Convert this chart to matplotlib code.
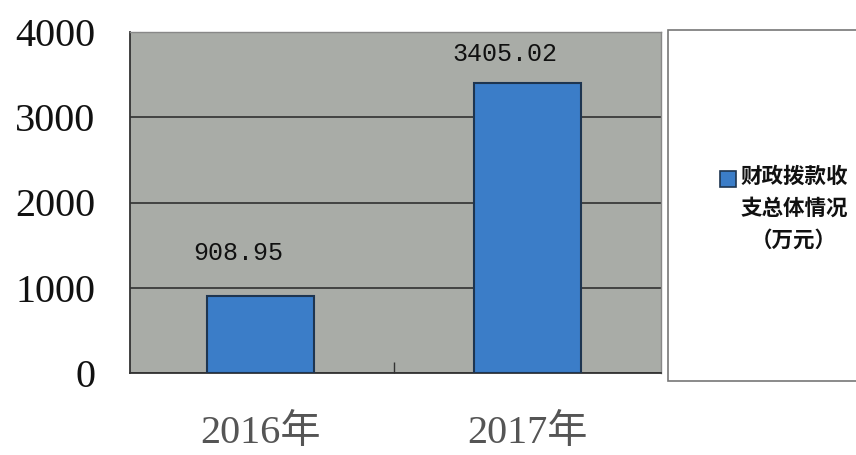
import matplotlib
matplotlib.use("Agg")
import matplotlib.pyplot as plt
from matplotlib.patches import Rectangle

categories = ["2016年", "2017年"]
values = [908.95, 3405.02]
yticks = [0, 1000, 2000, 3000, 4000]
legend_label = "财政拨款收\n支总体情况\n（万元）"

fig = plt.figure(figsize=(8.56, 4.55), dpi=100)
fig.patch.set_facecolor("white")
ax = fig.add_axes([130/856, 1-373/455, 531/856, 341/455])
ax.set_facecolor("#a9aca7")

x = list(range(len(categories)))
ax.set_axisbelow(True)
ax.yaxis.grid(True, color="#3a3a3a", linewidth=1.3)
bars = ax.bar(x, values, width=0.40, color="#3b7dc8", edgecolor="#1e3550", linewidth=1.5, zorder=3)

ax.set_xlim(-0.49, 1.5)
ax.set_ylim(0, 4000)
ax.set_yticks(yticks)
ax.set_yticklabels([str(t) for t in yticks], fontsize=29, family="Liberation Serif", color="#111111")
ax.tick_params(axis="y", length=0, pad=25)
ax.set_xticks(x)
ax.set_xticklabels(categories, fontsize=29, family=["Liberation Serif", "Noto Sans CJK SC"], color="#555555")
ax.tick_params(axis="x", length=0, pad=30)
ax.set_xticks([0.5], minor=True)
ax.tick_params(axis="x", which="minor", direction="in", length=8, color="#333333", width=1)

for s in ["left", "bottom"]:
    ax.spines[s].set_color("#333333")
    ax.spines[s].set_linewidth(1.3)
for s in ["top", "right"]:
    ax.spines[s].set_color("#888888")
    ax.spines[s].set_linewidth(1.0)

offsets = [22, 12]
for xi, v, off in zip(x, values, offsets):
    ax.annotate(f"{v:.2f}", (xi, v), xytext=(-16, off), textcoords="offset points",
                ha="center", va="bottom", fontsize=18, family="Liberation Mono", color="#111111")

# legend box
fig.patches.append(Rectangle((668/856, 1-381/455), 200/856, 351/455, transform=fig.transFigure,
                             facecolor="white", edgecolor="#777777", linewidth=1.2))
fig.patches.append(Rectangle((720/856, 1-187/455), 16/856, 16/455, transform=fig.transFigure,
                             facecolor="#3b7dc8", edgecolor="#1e3550", linewidth=1.2))
fig.text(794/856, 1-166/455, legend_label, ha="center", va="top", fontsize=15.5, fontweight="bold",
         family=["Noto Sans CJK SC", "DejaVu Sans"], color="#111111", linespacing=1.65,
         transform=fig.transFigure)

fig.savefig("out.png", dpi=100)
